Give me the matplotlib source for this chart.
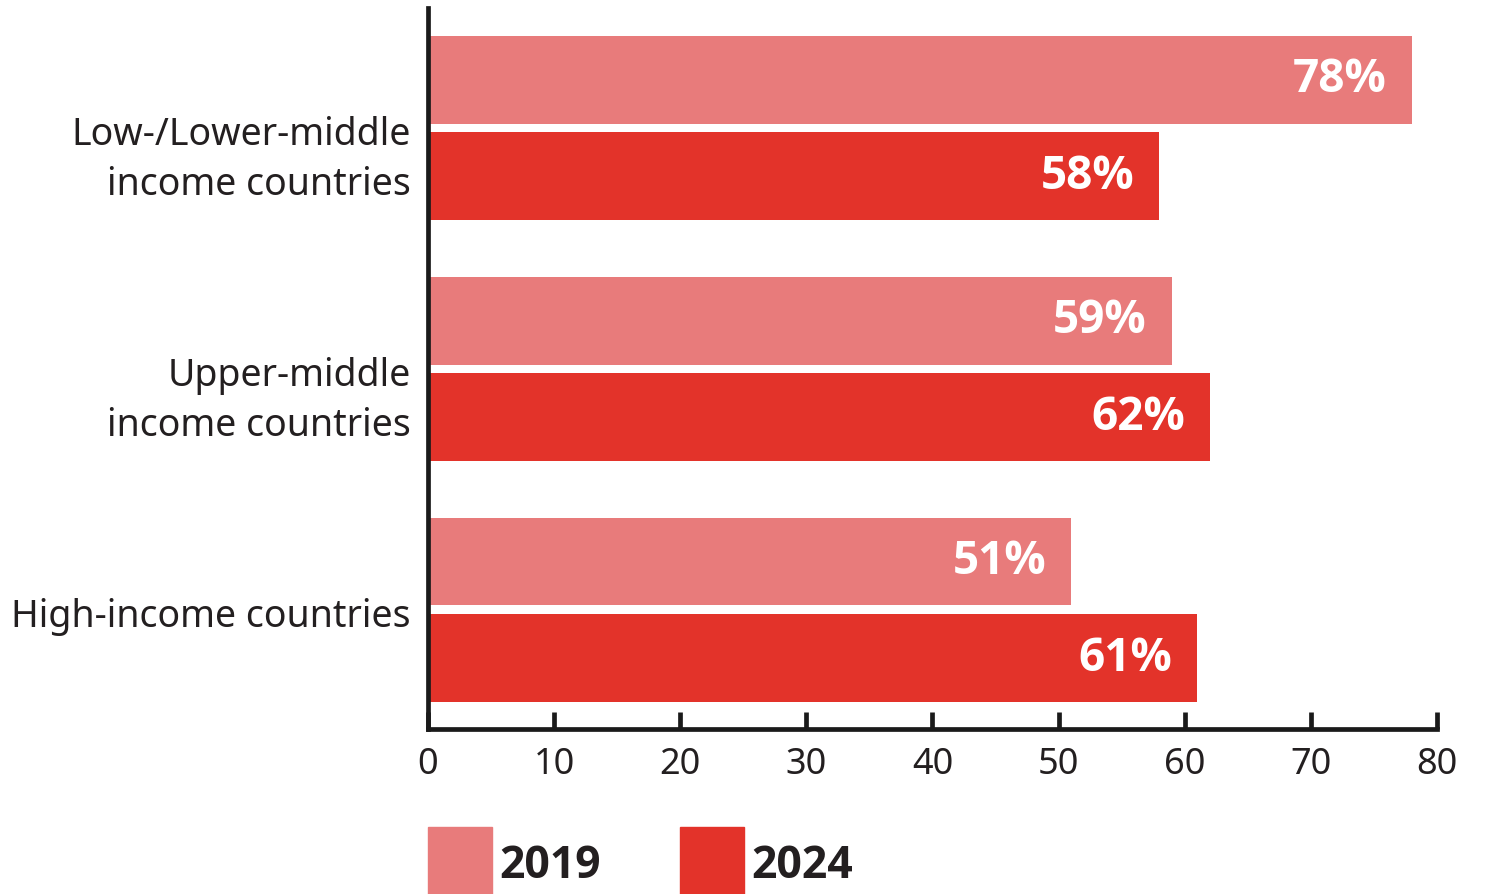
import numpy as np
import matplotlib
matplotlib.use('Agg')
import matplotlib.pyplot as plt
import matplotlib.transforms as mtransforms
from matplotlib.patches import Rectangle

plt.rcParams['font.family'] = ['Noto Sans', 'DejaVu Sans']
BOLD = ['Open Sans', 'Lato', 'DejaVu Sans']

# data
groups = ['Low-/Lower-middle\nincome countries', 'Upper-middle\nincome countries', 'High-income countries']
years = ['2019', '2024']
vals_2019 = [78, 59, 51]
vals_2024 = [58, 62, 61]
xticks = [0, 10, 20, 30, 40, 50, 60, 70, 80]

c_2019 = '#E87B7B'
c_2024 = '#E3332A'
ink = '#231F20'

fig = plt.figure(figsize=(14.88, 8.94), dpi=100)
ax = fig.add_axes([0.2876, 0.1846, 0.9657 - 0.2876, 0.991 - 0.1846])

pos = np.arange(len(groups))[::-1]  # top group first
h = 0.365
off = 0.201

b1 = ax.barh(pos + off, vals_2019, height=h, color=c_2019, zorder=2)
b2 = ax.barh(pos - off, vals_2024, height=h, color=c_2024, zorder=2)

for bars, vals in [(b1, vals_2019), (b2, vals_2024)]:
    for b, v in zip(bars, vals):
        ax.text(v - 2, b.get_y() + b.get_height() / 2, f'{v}%', ha='right', va='center',
                color='white', fontsize=33, fontweight='bold', family=BOLD, zorder=3)

ax.set_xlim(0, 80)
ax.set_ylim(-0.494, 2.498)
ax.set_xticks(xticks)
ax.set_xticklabels([str(t) for t in xticks])
ax.set_yticks([])

# category labels, one text per line; first baseline a little below the group centre
base_tr = mtransforms.blended_transform_factory(ax.transAxes, ax.transData)
for p, g in zip(pos, groups):
    for i, line in enumerate(g.split('\n')):
        tr = base_tr + mtransforms.ScaledTranslation(-0.17, -0.17 - 0.50 * i, fig.dpi_scale_trans)
        ax.text(0, p, line, transform=tr, ha='right', va='baseline',
                fontsize=27, color=ink)

for s in ['top', 'right']:
    ax.spines[s].set_visible(False)
for s in ['left', 'bottom']:
    ax.spines[s].set_linewidth(3.4)
    ax.spines[s].set_color('#1a1a1a')
    ax.spines[s].set_zorder(4)
ax.spines['left'].set_capstyle('projecting')

ax.tick_params(axis='x', direction='in', length=12, width=3.4, color='#1a1a1a',
               labelsize=26, labelcolor=ink, pad=13)

# legend drawn along the bottom edge
legend_items = [(years[0], c_2019, 428), (years[1], c_2024, 680)]
for name, col, px in legend_items:
    fig.patches.append(Rectangle((px / 1488, 0), 64 / 1488, 67 / 894,
                                 transform=fig.transFigure, color=col, zorder=1))
    fig.text((px + 71) / 1488, 16 / 894, name, ha='left', va='baseline',
             fontsize=32, fontweight='bold', family=BOLD, color=ink)

fig.savefig('out.png', dpi=100)
